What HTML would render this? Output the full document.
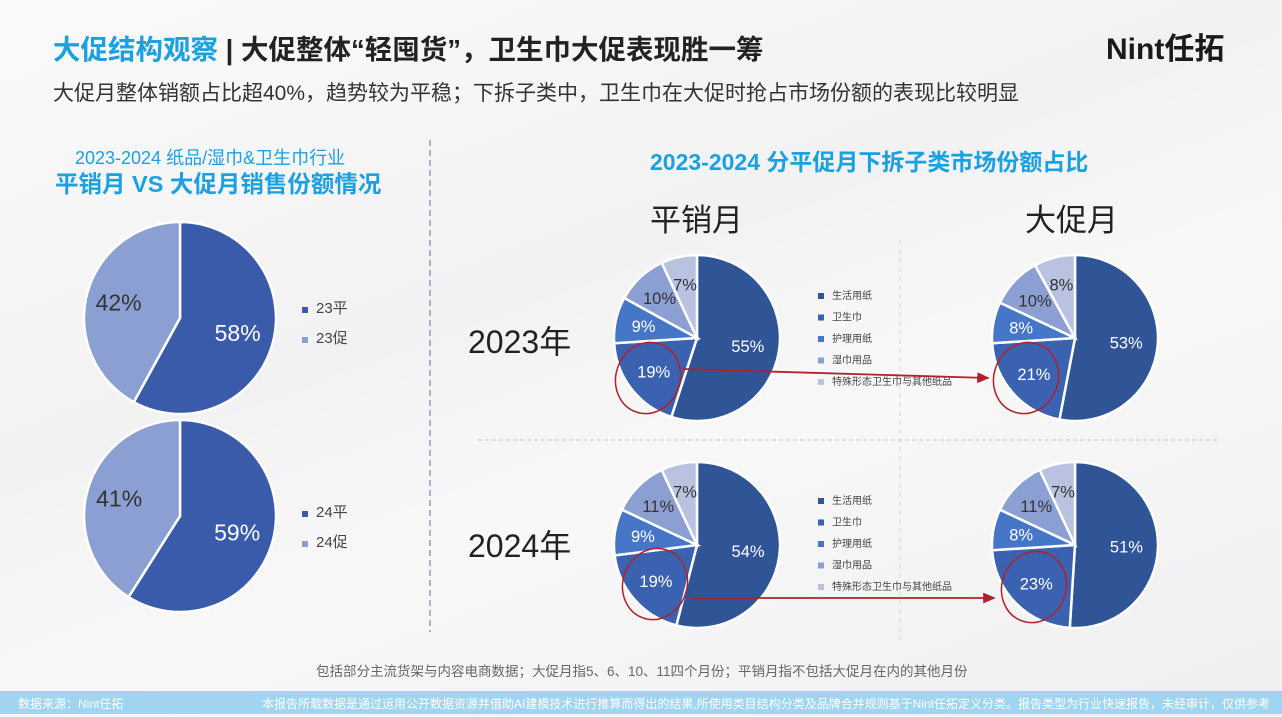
<!DOCTYPE html>
<html><head><meta charset="utf-8">
<style>
body{margin:0;width:1282px;height:717px;overflow:hidden;background:#f6f6f7;font-family:"Liberation Sans","Noto Sans CJK SC",sans-serif;}
.t{position:absolute;white-space:nowrap;}
</style></head>
<body>
<div style="position:absolute;left:0;top:0;width:1282px;height:717px;background:linear-gradient(160deg,#fafafa 0%,#f2f2f3 40%,#f8f8f9 60%,#efeff0 100%);"></div>
<div class="t" style="left:53px;top:27px;font-size:27.5px;font-weight:bold;color:#222;"><span style="color:#1ba1e2">大促结构观察</span> | 大促整体“轻囤货”，卫生巾大促表现胜一筹</div>
<div class="t" style="left:1106px;top:24px;font-size:30px;font-weight:bold;color:#1a1a1a;">Nint任拓</div>
<div class="t" style="left:53px;top:77px;font-size:21px;color:#333;">大促月整体销额占比超40%，趋势较为平稳；下拆子类中，卫生巾在大促时抢占市场份额的表现比较明显</div>
<div class="t" style="left:75px;top:144px;font-size:18px;color:#1ba1e2;">2023-2024 纸品/湿巾&amp;卫生巾行业</div>
<div class="t" style="left:55px;top:165px;font-size:23.5px;font-weight:bold;color:#1ba1e2;">平销月 VS 大促月销售份额情况</div>
<div class="t" style="left:650px;top:143px;font-size:23px;font-weight:bold;color:#1ba1e2;">2023-2024 分平促月下拆子类市场份额占比</div>
<div class="t" style="left:650px;top:195px;font-size:31px;color:#222;">平销月</div>
<div class="t" style="left:1025px;top:195px;font-size:31px;color:#222;">大促月</div>
<div class="t" style="left:468px;top:317px;font-size:32px;color:#222;">2023年</div>
<div class="t" style="left:468px;top:521px;font-size:32px;color:#222;">2024年</div>
<div class="t" style="left:316px;top:660px;font-size:13.5px;color:#666;">包括部分主流货架与内容电商数据；大促月指5、6、10、11四个月份；平销月指不包括大促月在内的其他月份</div>
<div style="position:absolute;left:0;top:691px;width:1282px;height:23px;background:#9fd5f0;"></div>
<div class="t" style="left:18px;top:695px;font-size:12px;color:#fff;">数据来源：Nint任拓</div>
<div class="t" style="left:262px;top:695px;font-size:12px;color:#fff;">本报告所载数据是通过运用公开数据资源并借助AI建模技术进行推算而得出的结果,所使用类目结构分类及品牌合并规则基于Nint任拓定义分类。报告类型为行业快速报告，未经审计，仅供参考</div>
<svg id="chart" width="1282" height="717" style="position:absolute;left:0;top:0"></svg>
<script>
const bigLabels23=['23平','23促'];
const bigValues23=[58,42];
const bigLabels24=['24平','24促'];
const bigValues24=[59,41];
const subCats=['生活用纸','卫生巾','护理用纸','湿巾用品','特殊形态卫生巾与其他纸品'];
const sub23Normal=[55,19,9,10,7];
const sub23Promo=[53,21,8,10,8];
const sub24Normal=[54,19,9,11,7];
const sub24Promo=[51,23,8,11,7];
const subColors=['#2f5597','#3a62b0','#4676c8','#8b9fd2','#b9c3e1'];
const bigColors=['#3a5ba9','#8b9fd2'];
const NS='http://www.w3.org/2000/svg';
const svg=document.getElementById('chart');
function mk(tag,attrs,parent){const e=document.createElementNS(NS,tag);for(const k in attrs)e.setAttribute(k,attrs[k]);(parent||svg).appendChild(e);return e;}
function pie(cx,cy,r,vals,colors,fs,darkIdx,name){
  const g=mk('g',{});
  
  
  const tot=vals.reduce((a,b)=>a+b,0);let a0=0;
  vals.forEach((v,i)=>{
    const a1=a0+v/tot*2*Math.PI;
    const x0=cx+r*Math.sin(a0),y0=cy-r*Math.cos(a0),x1=cx+r*Math.sin(a1),y1=cy-r*Math.cos(a1);
    const p=mk('path',{d:`M${cx},${cy}L${x0},${y0}A${r},${r} 0 ${a1-a0>Math.PI?1:0} 1 ${x1},${y1}Z`,fill:colors[i],stroke:'#fff','stroke-width':2.5},g);
    
    
    const am=(a0+a1)/2,lr=r*(i===0?0.62:0.66);
    const t=mk('text',{x:cx+lr*Math.sin(am),y:cy-lr*Math.cos(am)+fs*0.35,'text-anchor':'middle','font-size':fs,fill:(i>=darkIdx?'#333':'#fff'),'font-family':'Liberation Sans, sans-serif'},g);
    t.textContent=v+'%';
    
    
    a0=a1;
  });
}
function legend(x,y,labels,colors,step,fs,name){
  labels.forEach((l,i)=>{
    const r=mk('rect',{x:x,y:y+i*step-6,width:6,height:6,fill:colors[i]});
    
    
    const t=mk('text',{x:x+14,y:y+i*step,'font-size':fs,fill:'#444','font-family':'Liberation Sans, Noto Sans CJK SC, sans-serif'});
    t.textContent=l;
    
    
  });
}
let d=mk('line',{x1:430,y1:140,x2:430,y2:632,stroke:'#7a8fb5','stroke-width':1.3,'stroke-dasharray':'6,4'});

d=mk('line',{x1:478,y1:440,x2:1220,y2:440,stroke:'#ccc','stroke-width':1.3,'stroke-dasharray':'4,3'});

d=mk('line',{x1:900,y1:240,x2:900,y2:640,stroke:'#ddd','stroke-width':1.2,'stroke-dasharray':'5,4'});


pie(180,318,96,bigValues23,bigColors,23,1,'pie-2023');
pie(180,516,96,bigValues24,bigColors,23,1,'pie-2024');
legend(302,313,bigLabels23,bigColors,30,15,'legend-2023');
legend(302,517,bigLabels24,bigColors,30,15,'legend-2024');
pie(697,338,83,sub23Normal,subColors,16.5,3,'pie-2023-normal');
pie(1075,338,83,sub23Promo,subColors,16.5,3,'pie-2023-promo');
pie(697,545,83,sub24Normal,subColors,16.5,3,'pie-2024-normal');
pie(1075,545,83,sub24Promo,subColors,16.5,3,'pie-2024-promo');
legend(818,299,subCats,subColors,21.5,10,'legend-sub-2023');
legend(818,504,subCats,subColors,21.5,10,'legend-sub-2024');
const hl=[[648,378],[1026,378],[655,584],[1034,587]];
hl.forEach((h,i)=>{
  const e=mk('ellipse',{cx:h[0],cy:h[1],rx:36,ry:32,fill:'none',stroke:'#b3202a','stroke-width':1.5,transform:`rotate(-70 ${h[0]} ${h[1]})`});
  
  
});
mk('defs',{}).innerHTML='<marker id="ah" markerWidth="8" markerHeight="8" refX="6" refY="3" orient="auto"><path d="M0,0L7,3L0,6Z" fill="#b3202a"/></marker>';
let ar=mk('line',{x1:683,y1:369,x2:988,y2:378,stroke:'#b3202a','stroke-width':1.8,'marker-end':'url(#ah)'});

ar=mk('line',{x1:690,y1:598,x2:994,y2:598,stroke:'#b3202a','stroke-width':1.8,'marker-end':'url(#ah)'});

</script>
</body></html>
